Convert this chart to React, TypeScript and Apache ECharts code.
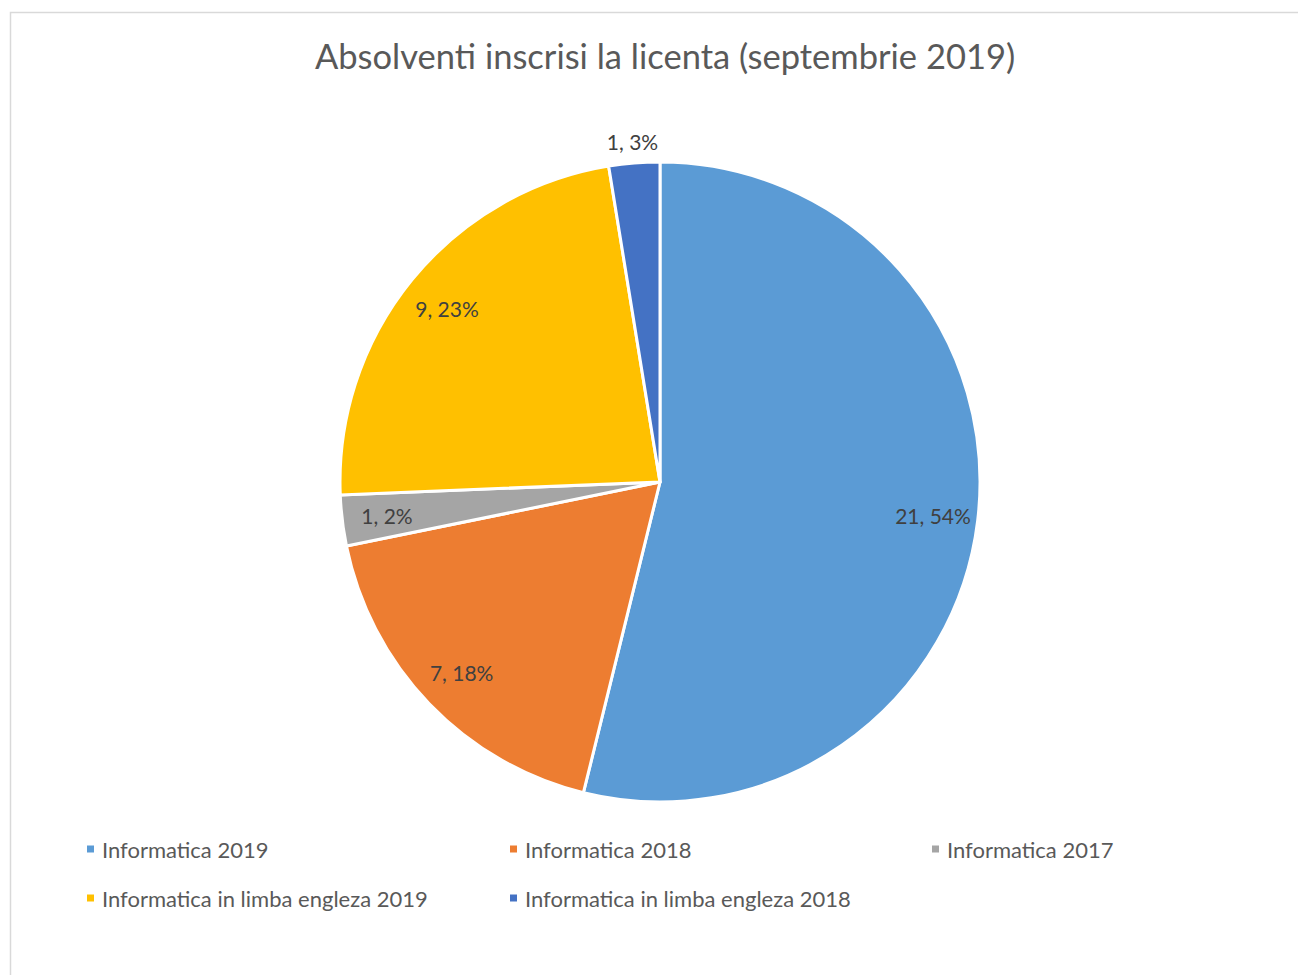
import React, { useEffect, useRef } from "react";
import * as echarts from "echarts";

const titleText = "Absolventi inscrisi la licenta (septembrie 2019)";
const categories = [
  "Informatica 2019",
  "Informatica 2018",
  "Informatica 2017",
  "Informatica in limba engleza 2019",
  "Informatica in limba engleza 2018",
];
const values = [21, 7, 1, 9, 1];
const percentLabels = ["54%", "18%", "2%", "23%", "3%"];
const colors = ["#5B9BD5", "#ED7D31", "#A5A5A5", "#FFC000", "#4472C4"];
const outsideLabelIndex = [4];

const FONT = "Lato, 'Open Sans', sans-serif";

export default function App() {
  const ref = useRef<HTMLDivElement>(null);
  useEffect(() => {
    if (!ref.current) return;
    const chart = echarts.init(ref.current, null, { renderer: "svg" });
    const center = [660, 482];
    const R = 320;
    const labelText = (i: number) => `${values[i]}, ${percentLabels[i]}`;
    const labelStyle = { fontFamily: FONT, fontSize: 21, color: "#404040" };

    const mainData = categories.map((name, i) => ({
      name,
      value: values[i],
      itemStyle: { color: colors[i] },
    }));
    const innerLabelData = categories.map((name, i) => ({
      name: name + " #in",
      value: values[i],
      label: { show: !outsideLabelIndex.includes(i) },
    }));
    const outerLabelData = categories.map((name, i) => ({
      name: name + " #out",
      value: values[i],
      label: { show: outsideLabelIndex.includes(i) },
    }));

    const legendBase = {
      orient: "vertical",
      icon: "rect",
      itemWidth: 9,
      itemHeight: 9,
      itemGap: 23,
      top: 831,
      textStyle: { fontFamily: FONT, fontSize: 22, color: "#595959", lineHeight: 26, padding: [0, 0, 0, 2] },
      selectedMode: false,
    };

    chart.setOption({
      animation: false,
      backgroundColor: "#ffffff",
      title: {
        text: titleText,
        left: 310,
        top: 33,
        textStyle: { fontFamily: FONT, fontSize: 34.5, fontWeight: "normal", color: "#595959" },
      },
      graphic: [
        {
          type: "rect",
          shape: { x: 10.5, y: 12.5, width: 1400, height: 1100 },
          style: { fill: "none", stroke: "#d9d9d9", lineWidth: 1.5 },
          silent: true,
        },
      ],
      legend: [
        { ...legendBase, left: 80, data: [categories[0], categories[3]] },
        { ...legendBase, left: 503, data: [categories[1], categories[4]] },
        { ...legendBase, left: 925, data: [categories[2]] },
      ],
      series: [
        {
          type: "pie",
          center,
          radius: [0, R],
          startAngle: 90,
          clockwise: true,
          avoidLabelOverlap: false,
          label: { show: false },
          labelLine: { show: false },
          itemStyle: { borderColor: "#ffffff", borderWidth: 3 },
          emphasis: { disabled: true },
          data: mainData,
        },
        {
          type: "pie",
          center,
          radius: [224, R],
          startAngle: 90,
          clockwise: true,
          silent: true,
          avoidLabelOverlap: false,
          itemStyle: { color: "rgba(0,0,0,0)", borderWidth: 0 },
          label: {
            position: "inside",
            ...labelStyle,
            formatter: (p: any) => labelText(p.dataIndex),
          },
          labelLine: { show: false },
          emphasis: { disabled: true },
          data: innerLabelData,
        },
        {
          type: "pie",
          center,
          radius: [R + 8, R + 30],
          startAngle: 90,
          clockwise: true,
          silent: true,
          avoidLabelOverlap: false,
          itemStyle: { color: "rgba(0,0,0,0)", borderWidth: 0 },
          label: {
            position: "inside",
            ...labelStyle,
            formatter: (p: any) => labelText(p.dataIndex),
          },
          labelLine: { show: false },
          emphasis: { disabled: true },
          data: outerLabelData,
        },
      ],
    });
    return () => chart.dispose();
  }, []);
  return (
    <div
      ref={ref}
      style={{ position: "fixed", left: 0, top: 0, width: 1298, height: 975 }}
    />
  );
}
